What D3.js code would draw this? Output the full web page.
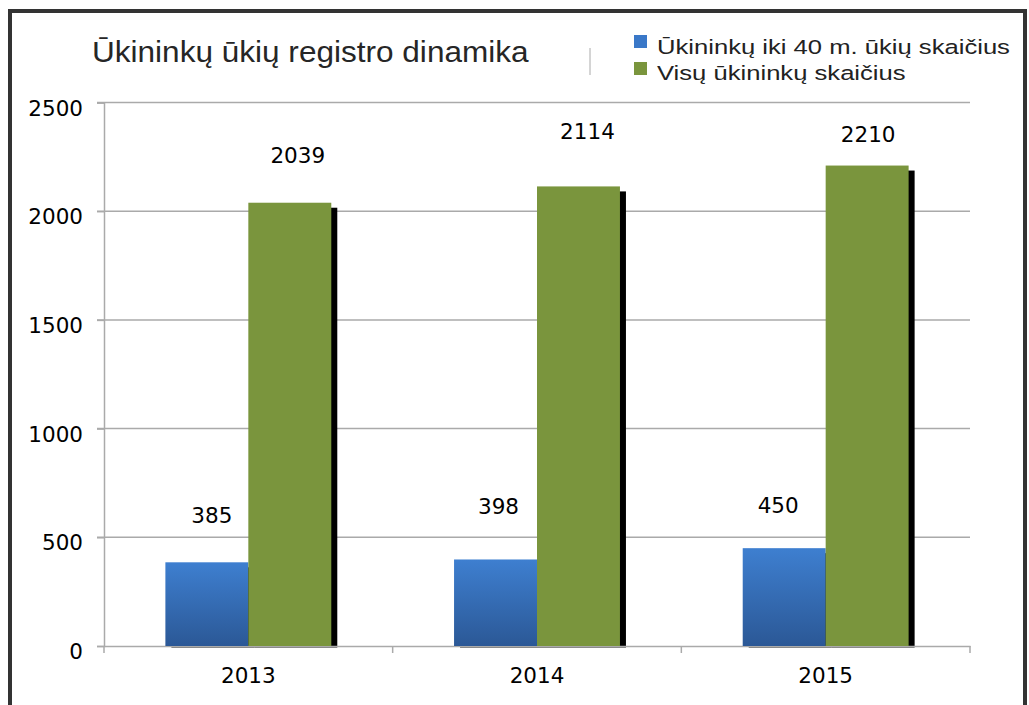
<!DOCTYPE html>
<html>
<head>
<meta charset="utf-8">
<script src="https://cdn.jsdelivr.net/npm/d3@7"></script>
<style>
  body { margin: 0; background: #fff; }
  svg { display: block; }
</style>
</head>
<body>
<div id="chart_container"></div>
<script>
// chart data
const years = ["2013", "2014", "2015"];
const series_names = ["Ūkininkų iki 40 m. ūkių skaičius", "Visų ūkininkų skaičius"];
const young_farmers = [385, 398, 450];
const all_farmers = [2039, 2114, 2210];
const y_ticks = [0, 500, 1000, 1500, 2000, 2500];
const chart_title = "Ūkininkų ūkių registro dinamika";

// label nudges (dx, dy from bar top), per year, per series
const label_nudge = [
    [[5, -39], [8, -40]],
    [[3, -45], [9, -47]],
    [[-6, -35], [1, -24]]
];

const width = 1029, height = 705;
const plot = { left: 104, right: 970, top: 102.5, bottom: 646 };

const svg = d3.select("#chart_container")
    .append("svg")
    .attr("width", width)
    .attr("height", height);

const defs = svg.append("defs");
const grad = defs.append("linearGradient")
    .attr("id", "blue_grad")
    .attr("x1", 0).attr("y1", 0).attr("x2", 0).attr("y2", 1);
grad.append("stop").attr("offset", "0%").attr("stop-color", "#3e7fd0");
grad.append("stop").attr("offset", "100%").attr("stop-color", "#2b5896");

defs.append("clipPath").attr("id", "plot_clip")
    .append("rect")
    .attr("x", plot.left).attr("y", 0)
    .attr("width", plot.right - plot.left + 20)
    .attr("height", plot.bottom + 1.5);

const colors = ["url(#blue_grad)", "#7a953d"];
const legend_colors = ["#3a78c8", "#7a953d"];

// scales
const x = d3.scaleBand()
    .domain(years)
    .range([plot.left, plot.right])
    .paddingInner(0).paddingOuter(0);

const x1 = d3.scaleBand()
    .domain([0, 1])
    .range([0, x.bandwidth()])
    .paddingInner(0).paddingOuter(0.74);

const y = d3.scaleLinear()
    .domain([0, 2500])
    .range([plot.bottom, plot.top]);

// gridlines
svg.append("g")
    .selectAll("line")
    .data(y_ticks.filter(d => d > 0))
    .enter()
    .append("line")
    .attr("x1", plot.left - 7)
    .attr("x2", plot.right)
    .attr("y1", d => y(d))
    .attr("y2", d => y(d))
    .style("stroke", "#aaa")
    .style("stroke-width", 1.5);

// Y axis
const yAxis = svg.append("g")
    .attr("transform", `translate(${plot.left}, 0)`)
    .call(d3.axisLeft(y).tickValues(y_ticks).tickFormat(d3.format("d")).tickSize(7).tickPadding(14));
yAxis.select(".domain").style("stroke", "#aaa").style("stroke-width", 1.5);
yAxis.selectAll(".tick line").style("stroke", "#aaa").style("stroke-width", 1.5);
yAxis.selectAll("text")
    .style("font-family", "DejaVu Sans")
    .style("font-size", "21.5px")
    .style("fill", "#000")
    .attr("dy", "12.5px");

const rows = years.map((yr, i) => ({ year: yr, idx: i, values: [young_farmers[i], all_farmers[i]] }));

// shadows
const shadowLayer = svg.append("g").attr("clip-path", "url(#plot_clip)");
rows.forEach(r => {
    r.values.forEach((v, s) => {
        shadowLayer.append("rect")
            .attr("x", x(r.year) + x1(s) + 6)
            .attr("y", y(v) + 5)
            .attr("width", x1.bandwidth())
            .attr("height", y(0) - y(v))
            .attr("fill", "#000");
    });
});

// X axis
const xAxis = svg.append("g")
    .attr("transform", `translate(0, ${plot.bottom})`)
    .call(d3.axisBottom(x).tickSize(0).tickPadding(22));
xAxis.select(".domain").style("stroke", "#aaa").style("stroke-width", 1.5);
xAxis.selectAll("text")
    .style("font-family", "DejaVu Sans")
    .style("font-size", "21.5px")
    .style("fill", "#000");
svg.append("g")
    .selectAll("line")
    .data(years.map(d => x(d)).concat([plot.right]))
    .enter()
    .append("line")
    .attr("x1", d => d).attr("x2", d => d)
    .attr("y1", plot.bottom).attr("y2", plot.bottom + 7)
    .style("stroke", "#aaa")
    .style("stroke-width", 1.5);

// bars
rows.forEach(r => {
    r.values.forEach((v, s) => {
        svg.append("rect")
            .attr("x", x(r.year) + x1(s))
            .attr("y", y(v))
            .attr("width", x1.bandwidth())
            .attr("height", y(0) - y(v))
            .attr("fill", colors[s]);

        const nudge = label_nudge[r.idx][s];
        svg.append("text")
            .attr("x", x(r.year) + x1(s) + x1.bandwidth() / 2 + nudge[0])
            .attr("y", y(v) + nudge[1])
            .attr("text-anchor", "middle")
            .style("font-family", "DejaVu Sans")
            .style("font-size", "21.5px")
            .style("fill", "#000")
            .text(v);
    });
});

// title
svg.append("text")
    .attr("transform", "translate(92, 62) scale(1.07, 1)")
    .style("font-family", "Liberation Sans")
    .style("font-size", "29.5px")
    .style("fill", "#262626")
    .text(chart_title);

svg.append("line")
    .attr("x1", 590).attr("x2", 590)
    .attr("y1", 48).attr("y2", 75)
    .style("stroke", "#aaa")
    .style("stroke-width", 1);

// legend
const legend = svg.append("g");
series_names.forEach((name, i) => {
    legend.append("rect")
        .attr("x", 634)
        .attr("y", 35 + i * 27)
        .attr("width", 13)
        .attr("height", 13)
        .attr("fill", legend_colors[i]);
    legend.append("text")
        .attr("transform", `translate(657, ${54 + i * 26}) scale(1.25, 1)`)
        .style("font-family", "Liberation Sans")
        .style("font-size", "20.5px")
        .style("fill", "#222")
        .text(name);
});

// outer frame
svg.append("rect")
    .attr("x", 10)
    .attr("y", 11)
    .attr("width", 1015)
    .attr("height", 720)
    .attr("fill", "none")
    .style("stroke", "#333")
    .style("stroke-width", 4);
</script>
</body>
</html>
